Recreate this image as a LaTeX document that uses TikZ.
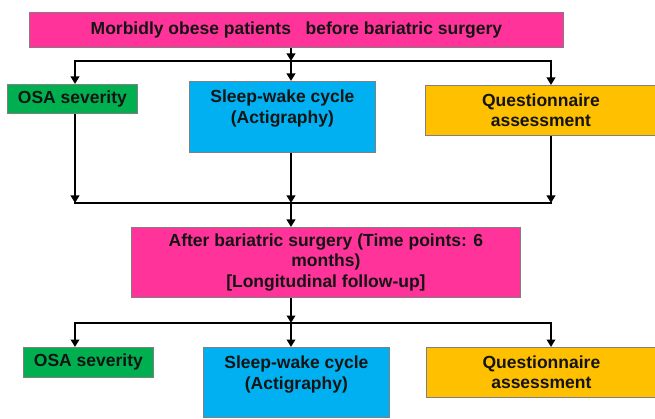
\documentclass[tikz,border=0pt]{standalone}
\usepackage{fontspec}
\setmainfont{Liberation Sans}
\usetikzlibrary{arrows.meta,positioning}
\definecolor{boxpink}{HTML}{FF3399}
\definecolor{boxgreen}{HTML}{00B050}
\definecolor{boxblue}{HTML}{00B0F0}
\definecolor{boxgold}{HTML}{FFC000}
\definecolor{boxline}{HTML}{808080}
\definecolor{inkdark}{HTML}{141414}
\tikzset{
 box/.style={draw=boxline,line width=.8pt,anchor=north west,inner sep=0pt,align=center,
  text=inkdark,font=\bfseries\fontsize{17.5}{20.5}\selectfont},
 lbl/.style={inner sep=0pt,align=center,text=inkdark,font=\bfseries\fontsize{17.5}{20.5}\selectfont},
 arr/.style={line width=2pt,-{Triangle[length=7.5pt,width=8.5pt]}},
 bar/.style={line width=2pt,line cap=rect},
}

\begin{document}
\begin{tikzpicture}[x=1pt,y=-1pt]
 \clip (0,0) rectangle (655,419);
 % before surgery
 \node[box,fill=boxpink,minimum width=534pt,minimum height=35pt] (pre) at (29,12)
  {Morbidly obese patients \ \ before bariatric surgery};
 \coordinate (splitL) at (75,61);
 \coordinate (splitC) at (291,61);
 \coordinate (splitR) at (551,61);
 \node[box,fill=boxgreen,minimum width=130pt,minimum height=29pt] (osaA) at (7,84) {OSA severity};
 \node[box,fill=boxblue,minimum width=186pt,minimum height=71pt] (sleepA) at (189,81) {};
 \node[lbl,below=9pt of sleepA.north] (sleepAtxt) {Sleep-wake cycle\\(Actigraphy)};
 \node[box,fill=boxgold,minimum width=231pt,minimum height=50pt] (questA) at (425,85)
  {Questionnaire\\assessment};
 \draw[arr] (pre.south -| splitC) -- (splitC);
 \draw[bar] (splitL) -- (splitR);
 \draw[arr] (splitL) -- (splitL |- osaA.north);
 \draw[arr] (splitC) -- (splitC |- sleepA.north);
 \draw[arr] (splitR) -- (splitR |- questA.north);
 % merge
 \coordinate (joinL) at (75,203);
 \coordinate (joinC) at (291,203);
 \coordinate (joinR) at (551,203);
 \draw[arr] (osaA.south -| joinL) -- (joinL);
 \draw[arr] (sleepA.south -| joinC) -- (joinC);
 \draw[arr] (questA.south -| joinR) -- (joinR);
 \draw[bar] (joinL) -- (joinR);
 % after surgery
 \node[box,fill=boxpink,minimum width=389pt,minimum height=70pt] (post) at (131,227)
  {After bariatric surgery (Time points: 6\\months)\\{}[Longitudinal follow-up]};
 \draw[arr] (joinC) -- (joinC |- post.north);
 \coordinate (forkL) at (75,323);
 \coordinate (forkC) at (291,323);
 \coordinate (forkR) at (551,323);
 \node[box,fill=boxgreen,minimum width=130pt,minimum height=30pt] (osaB) at (23,347) {OSA severity};
 \node[box,fill=boxblue,minimum width=186pt,minimum height=70pt] (sleepB) at (203,347) {};
 \node[lbl,below=9pt of sleepB.north] (sleepBtxt) {Sleep-wake cycle\\(Actigraphy)};
 \node[box,fill=boxgold,minimum width=230pt,minimum height=50pt] (questB) at (426,347)
  {Questionnaire\\assessment};
 \draw[arr] (post.south -| forkC) -- (forkC);
 \draw[bar] (forkL) -- (forkR);
 \draw[arr] (forkL) -- (forkL |- osaB.north);
 \draw[arr] (forkC) -- (forkC |- sleepB.north);
 \draw[arr] (forkR) -- (forkR |- questB.north);
\end{tikzpicture}
\end{document}
